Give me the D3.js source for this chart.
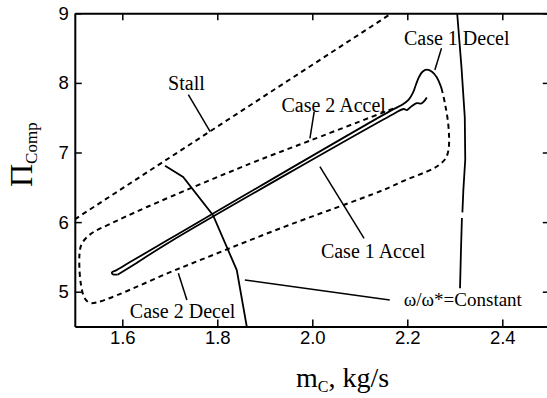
<!DOCTYPE html>
<html>
<head>
<meta charset="utf-8">
<script src="https://cdn.jsdelivr.net/npm/d3@7.9.0/dist/d3.min.js"></script>
<style>
  body { margin: 0; background: #fff; }
  svg { display: block; }
  .tick text { font-family: "Liberation Sans", Arial, sans-serif; font-size: 18.5px; fill: #000; }
  .lbl { font-family: "Liberation Serif", "Times New Roman", serif; font-size: 20px; fill: #000; }
</style>
</head>
<body>
<svg width="547" height="398"></svg>
<script>
// values: [mass flow kg/s, pressure ratio]
const stallLine = [[1.5, 6.04], [2.167, 9.0]];

const case1Decel = [
  [2.274, 7.87], [2.27, 7.96], [2.262, 8.08], [2.252, 8.16], [2.241, 8.19],
  [2.232, 8.16], [2.225, 8.09], [2.219, 7.99], [2.212, 7.86], [2.203, 7.76],
  [2.19, 7.69], [2.17, 7.62], [1.7, 5.76], [1.62, 5.44], [1.588, 5.31],
  [1.578, 5.275], [1.58, 5.25], [1.59, 5.245]
];
const case1Accel = [
  [1.59, 5.245], [1.62, 5.37], [1.7, 5.715], [2.17, 7.55], [2.192, 7.625],
  [2.199, 7.61], [2.209, 7.665], [2.22, 7.71], [2.23, 7.705], [2.237, 7.75],
  [2.241, 7.79]
];

const case2Loop = [
  [2.17, 7.63], [1.995, 7.17], [1.869, 6.84], [1.653, 6.22], [1.57, 5.96],
  [1.54, 5.86], [1.525, 5.78], [1.514, 5.68], [1.51, 5.55], [1.51, 5.3],
  [1.513, 5.1], [1.518, 4.95], [1.525, 4.87], [1.535, 4.835], [1.722, 5.34],
  [1.925, 5.89], [2.149, 6.46], [2.195, 6.6], [2.255, 6.77], [2.272, 6.85],
  [2.282, 6.93], [2.287, 7.05], [2.288, 7.2], [2.286, 7.42], [2.28, 7.68],
  [2.274, 7.87]
];

const speedLineLow = [
  [1.69, 6.81], [1.728, 6.65], [1.791, 6.1], [1.841, 5.31], [1.862, 4.5]
];
const speedLineHigh = [
  [2.305, 9.0], [2.314, 8.23], [2.321, 7.51], [2.322, 6.9], [2.318, 6.46],
  [2.316, 6.14], null, [2.315, 6.06], [2.313, 5.6], [2.311, 5.05]
];

// annotation text and leader lines
const labelText = ["Stall", "Case 1 Decel", "Case 2 Accel", "Case 1 Accel", "Case 2 Decel", "ω/ω*=Constant"];
const labelAt = [[1.735, 7.9], [2.304, 8.545], [2.045, 7.586], [2.128, 5.489], [1.727, 4.618], [2.317, 4.8]];
const leaders = [
  [[1.739, 7.83], [1.785, 7.3]],
  [[2.272, 8.497], [2.258, 8.185]],
  [[2.004, 7.586], [1.995, 7.204]],
  [[2.109, 5.767], [2.016, 6.796]],
  [[1.736, 4.88], [1.718, 5.264]],
  [[1.858, 5.168], [2.163, 4.88]]
];

const xTicks = [1.6, 1.8, 2.0, 2.2, 2.4];
const yTicks = [5, 6, 7, 8, 9];

const svg = d3.select("svg");
const x = d3.scaleLinear().domain([1.5, 2.5]).range([74.8, 549.8]);
const y = d3.scaleLinear().domain([4.5, 9]).range([326.5, 13.3]);

svg.append("defs").append("clipPath").attr("id", "plot")
  .append("rect").attr("x", 74.8).attr("y", 13.3).attr("width", 475).attr("height", 313.2);

// axes, ticks pointing inward
const axisStyle = (g) => {
  g.select(".domain").attr("stroke", "#000").attr("stroke-width", 2);
  g.selectAll(".tick line").attr("stroke", "#000").attr("stroke-width", 1.5);
};

svg.append("g")
  .attr("transform", `translate(0,${y(4.5)})`)
  .call(d3.axisBottom(x).tickValues(xTicks).tickFormat(d3.format(".1f"))
    .tickSizeInner(-7).tickSizeOuter(0).tickPadding(4))
  .call(axisStyle);

svg.append("g")
  .attr("transform", `translate(0,${y(9)})`)
  .call(d3.axisTop(x).tickValues(xTicks).tickFormat("")
    .tickSizeInner(-7).tickSizeOuter(0))
  .call(axisStyle);

svg.append("g")
  .attr("transform", `translate(${x(1.5)},0)`)
  .call(d3.axisLeft(y).tickValues(yTicks).tickFormat(d3.format("d"))
    .tickSizeInner(-7).tickSizeOuter(0).tickPadding(6))
  .call(axisStyle);

svg.append("g")
  .attr("transform", `translate(${x(2.5)},0)`)
  .call(d3.axisRight(y).tickValues(yTicks).tickFormat("")
    .tickSizeInner(-7).tickSizeOuter(0))
  .call(axisStyle);

const plot = svg.append("g").attr("clip-path", "url(#plot)");

const straight = d3.line().defined((d) => d).x((d) => x(d[0])).y((d) => y(d[1]));
const smooth = d3.line().x((d) => x(d[0])).y((d) => y(d[1])).curve(d3.curveCatmullRom.alpha(0.5));

plot.append("path").datum(stallLine).attr("d", straight)
  .attr("fill", "none").attr("stroke", "#000").attr("stroke-width", 2).attr("stroke-dasharray", "5,4");

plot.append("path").datum(case2Loop).attr("d", smooth)
  .attr("fill", "none").attr("stroke", "#000").attr("stroke-width", 2).attr("stroke-dasharray", "5,4");

[case1Decel, case1Accel].forEach((c) => {
  plot.append("path").datum(c).attr("d", smooth)
    .attr("fill", "none").attr("stroke", "#000").attr("stroke-width", 1.8)
    .attr("stroke-linejoin", "round");
});

[speedLineLow, speedLineHigh].forEach((c) => {
  plot.append("path").datum(c).attr("d", straight)
    .attr("fill", "none").attr("stroke", "#000").attr("stroke-width", 1.8);
});

leaders.forEach((l) => {
  plot.append("path").datum(l).attr("d", straight)
    .attr("fill", "none").attr("stroke", "#000").attr("stroke-width", 1.5);
});

labelText.forEach((t, i) => {
  svg.append("text").attr("class", "lbl")
    .attr("x", x(labelAt[i][0])).attr("y", y(labelAt[i][1]))
    .attr("text-anchor", "middle")
    .style("font-size", i === 5 ? "19px" : null)
    .text(t);
});

// axis titles
const xt = svg.append("text").attr("class", "lbl").attr("x", 296).attr("y", 387)
  .style("font-size", "28px");
xt.append("tspan").text("m");
xt.append("tspan").attr("dy", 5).style("font-size", "16px").text("C");
xt.append("tspan").attr("dy", -5).text(", kg/s");

const yt = svg.append("text").attr("class", "lbl")
  .attr("transform", "translate(32,187) rotate(-90)");
yt.append("tspan").style("font-size", "32px").text("Π");
yt.append("tspan").attr("dy", 5).style("font-size", "17px").text("Comp");
</script>
</body>
</html>
